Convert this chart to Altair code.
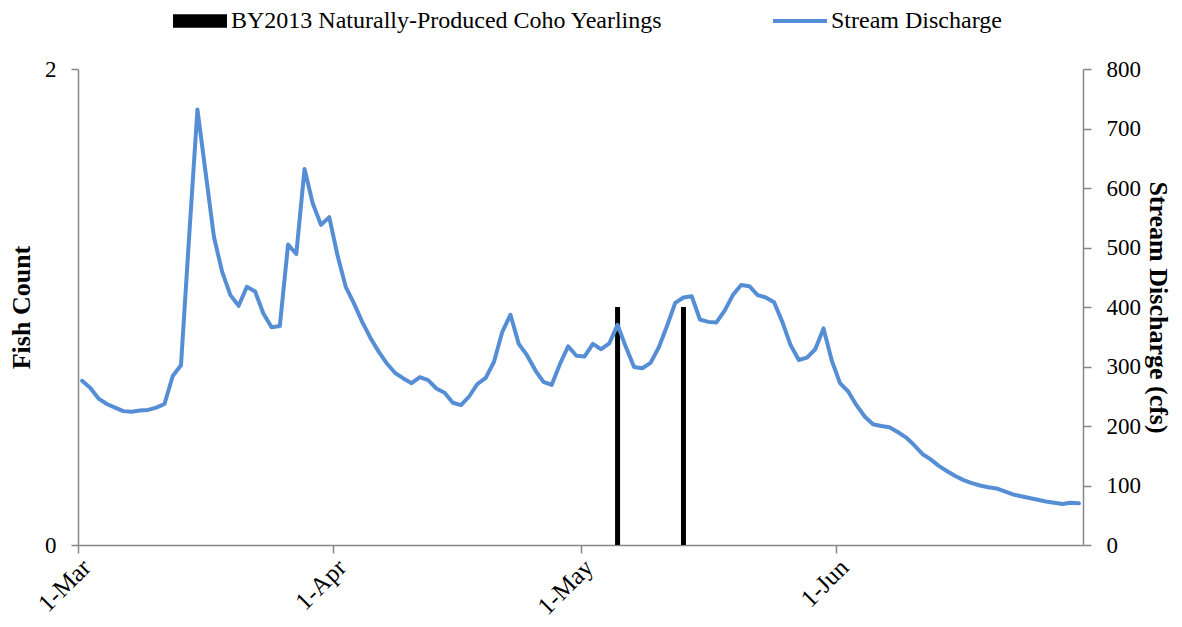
import altair as alt
import pandas as pd

# ---------------- data ----------------
first_day = "2015-03-01"
discharge_cfs = [
    276, 264, 246, 237, 231, 225, 224, 226, 227, 231,
    237, 284, 302, 520, 732, 625, 518, 459, 420, 402,
    434, 426, 389, 366, 368, 505, 489, 632, 574, 538,
    551, 487, 434, 406, 375, 348, 325, 305, 289, 280,
    272, 282, 277, 263, 256, 239, 235, 250, 271, 281,
    308, 358, 387, 338, 319, 294, 274, 269, 304, 334,
    318, 317, 338, 329, 339, 370, 333, 299, 297, 306,
    332, 368, 407, 416, 418, 379, 375, 374, 394, 420,
    437, 435, 420, 416, 408, 375, 336, 311, 315, 329,
    364, 310, 272, 258, 235, 216, 203, 200, 198, 190,
    181, 168, 153, 144, 133, 124, 116, 109, 104, 100,
    97, 95, 90, 85, 82, 79, 76, 73, 71, 69,
    71, 70,
]
fish_dates = ["2015-05-05", "2015-05-13"]
fish_counts = [1, 1]
month_ticks = ["2015-03-01", "2015-04-01", "2015-05-01", "2015-06-01"]
x_domain = ["2015-03-01", "2015-07-01"]
left_ticks = [0, 1, 2]
right_ticks = [0, 100, 200, 300, 400, 500, 600, 700, 800]
bar_series = "BY2013 Naturally-Produced Coho Yearlings"
line_series = "Stream Discharge"

# ---------------- tables ----------------
half_day = pd.Timedelta(hours=12)
days = pd.date_range(first_day, periods=len(discharge_cfs), freq="D") + half_day
line_df = pd.DataFrame({"date": days, "cfs": discharge_cfs, "series": line_series})
bar_df = pd.DataFrame({
    "date": pd.to_datetime(fish_dates) + half_day,
    "count": fish_counts,
    "series": bar_series,
})


def dt(s):
    t = pd.Timestamp(s)
    return alt.DateTime(year=t.year, month=t.month, date=t.day)


FONT = "Liberation Serif"
AXIS_GREY = "#868686"

# legend swatches: drawn mostly left of the symbol anchor so the entry row stays short
BAR_SWATCH = "M-5,-0.75L1,-0.75L1,0.75L-5,0.75Z"
LINE_SWATCH = "M-5,0L1,0"

x_enc = alt.X(
    "date:T",
    scale=alt.Scale(domain=[dt(s) for s in x_domain], padding=0),
    axis=alt.Axis(
        values=[dt(s) for s in month_ticks],
        format="%-d-%b",
        labelAngle=-45,
        labelAlign="right",
        labelBaseline="middle",
        labelPadding=10,
        labelOffset=8,
        tickSize=8,
        grid=False,
        title=None,
        labelFontSize=25,
    ),
)

bars = alt.Chart(bar_df).mark_bar(size=5).encode(
    x=x_enc,
    y=alt.Y(
        "count:Q",
        scale=alt.Scale(domain=[0, 2], nice=False),
        axis=alt.Axis(
            orient="left",
            values=left_ticks,
            format="d",
            title="Fish Count",
            tickSize=7,
            labelPadding=15,
            titlePadding=10,
            grid=False,
        ),
    ),
    color=alt.Color(
        "series:N",
        scale=alt.Scale(domain=[bar_series], range=["#000000"]),
        title=None,
        legend=alt.Legend(
            orient="none",
            legendX=128,
            legendY=-60,
            symbolType=BAR_SWATCH,
            symbolSize=324,
            symbolStrokeWidth=0,
            labelOffset=1,
            labelLimit=800,
            padding=0,
        ),
    ),
)

line = alt.Chart(line_df).mark_line(
    strokeWidth=4, strokeCap="round", strokeJoin="round"
).encode(
    x=x_enc,
    y=alt.Y(
        "cfs:Q",
        scale=alt.Scale(domain=[0, 800], nice=False),
        axis=alt.Axis(
            orient="right",
            values=right_ticks,
            format="d",
            title="Stream Discharge (cfs)",
            titleAngle=90,
            tickSize=8,
            labelPadding=15,
            titlePadding=4,
            grid=False,
        ),
    ),
    color=alt.Color(
        "series:N",
        scale=alt.Scale(domain=[line_series], range=["#558ED5"]),
        title=None,
        legend=alt.Legend(
            orient="none",
            legendX=728,
            legendY=-60,
            symbolType=LINE_SWATCH,
            symbolSize=324,
            symbolStrokeWidth=4,
            labelOffset=1,
            labelLimit=800,
            padding=0,
        ),
    ),
)

chart = (
    alt.layer(bars, line)
    .resolve_scale(y="independent", color="independent")
    .properties(
        width=1005,
        height=476,
        autosize=alt.AutoSizeParams(type="none"),
        padding={"left": 70, "top": 61, "right": 91, "bottom": 74},
        background="white",
    )
    .configure_view(stroke=None)
    .configure_axis(
        labelFont=FONT,
        titleFont=FONT,
        labelFontSize=23,
        titleFontSize=26,
        titleFontWeight="bold",
        labelColor="#000000",
        titleColor="#000000",
        domainColor=AXIS_GREY,
        tickColor=AXIS_GREY,
        domainWidth=1.5,
        tickWidth=1.5,
    )
    .configure_legend(
        labelFont=FONT,
        labelFontSize=24,
        labelColor="#000000",
    )
)

chart.save("out.html", embed_options={"renderer": "svg", "actions": False})
